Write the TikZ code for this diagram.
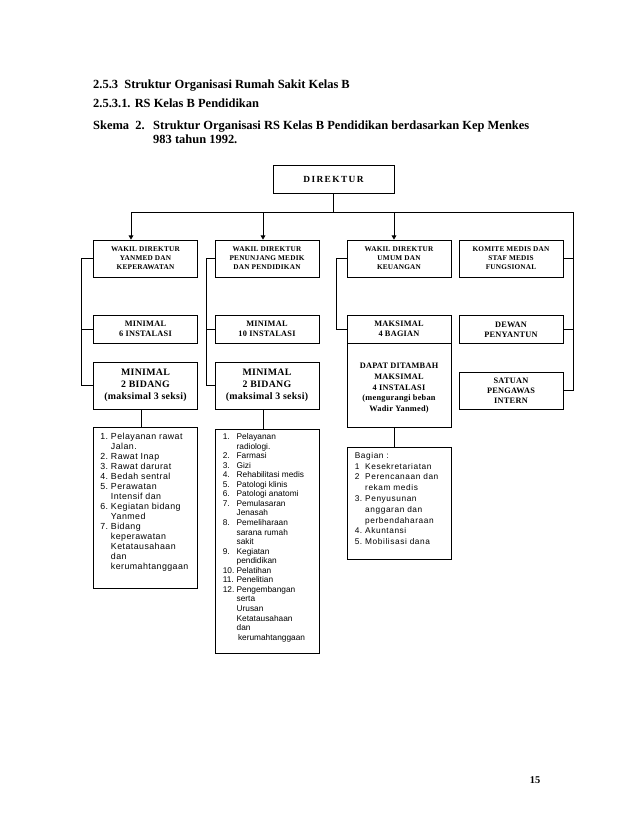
\documentclass[tikz,border=0pt]{standalone}
\usepackage{fontspec}
\usepackage{tikz}
\usetikzlibrary{arrows.meta}
\setmainfont{Liberation Serif}
\newfontfamily\boxfont[LetterSpace=3]{Liberation Serif}
\newfontfamily\widefont[LetterSpace=15]{Liberation Serif}
\newfontfamily\listfont{Liberation Sans}
\newfontfamily\listmid[LetterSpace=7]{Liberation Sans}
\newfontfamily\listwide[LetterSpace=5]{Liberation Sans}
\newlength\pxu
\setlength\pxu{0.3384mm}

\tikzstyle{box} = [draw, line width=0.8pt, inner sep=0pt, align=center, minimum width=104\pxu]
\tikzstyle{wadir} = [box, minimum height=37\pxu, font=\boxfont\bfseries\fontsize{7}{8.6}\selectfont]
\tikzstyle{unit} = [box, minimum height=28\pxu, font=\boxfont\bfseries\fontsize{8}{9.6}\selectfont]
\tikzstyle{bidang} = [box, minimum height=47\pxu, font=\boxfont\bfseries\fontsize{9.5}{11.5}\selectfont]
\tikzstyle{listbox} = [draw, line width=0.8pt, inner sep=0pt, minimum width=104\pxu]
\tikzstyle{listtext} = [anchor=north west, inner sep=0pt]
\tikzstyle{judul} = [anchor=base west, inner sep=0pt, font=\bfseries\fontsize{12}{14}\selectfont]
\tikzstyle{wire} = [line width=0.8pt]
\tikzstyle{arr} = [wire, -{Triangle[length=4pt,width=4.5pt]}]

\begin{document}
\begin{tikzpicture}[x=0.3384mm,y=-0.3384mm]
\useasboundingbox (0,0) rectangle (638,826);

% judul
\node[judul] (j1) at (93,88.5) {2.5.3\ \ Struktur Organisasi Rumah Sakit Kelas B};
\node[judul] (j2) at (93,108) {2.5.3.1. RS Kelas B Pendidikan};
\node[judul] (j3) at (93,130) {Skema\ \ 2.};
\node[judul] (j4) at (153,130) {Struktur Organisasi RS Kelas B Pendidikan berdasarkan Kep Menkes};
\node[judul] (j5) at (153,143.5) {983 tahun 1992.};

% kotak
\node[box, minimum width=121\pxu, minimum height=28\pxu, font=\widefont\bfseries\fontsize{9}{10}\selectfont] (dir) at (333.5,179) {DIREKTUR};

\node[wadir] (wyan) at (145.5,258.5) {WAKIL DIREKTUR\\YANMED DAN\\KEPERAWATAN};
\node[wadir] (wpen) at (267,258.5) {WAKIL DIREKTUR\\PENUNJANG MEDIK\\DAN PENDIDIKAN};
\node[wadir] (wum) at (399,258.5) {WAKIL DIREKTUR\\UMUM DAN\\KEUANGAN};
\node[wadir] (komite) at (511,258.5) {KOMITE MEDIS DAN\\STAF MEDIS\\FUNGSIONAL};

\node[unit] (inst6) at (145.5,329) {MINIMAL\\6 INSTALASI};
\node[unit] (inst10) at (267,329) {MINIMAL\\10 INSTALASI};
\node[unit] (bagian) at (399,329) {MAKSIMAL\\4 BAGIAN};
\node[unit] (dewan) at (511,329.5) {DEWAN\\PENYANTUN};

\node[bidang] (bid1) at (145.5,385.5) {MINIMAL\\2 BIDANG\\(maksimal 3 seksi)};
\node[bidang] (bid2) at (267,385.5) {MINIMAL\\2 BIDANG\\(maksimal 3 seksi)};
\node[listbox, minimum height=84\pxu] (dapat) at (399,385) {};
\node[anchor=north, inner sep=0pt, align=center, font=\boxfont\bfseries\fontsize{8}{10.5}\selectfont] (dapattxt) at ([yshift=-20\pxu]dapat.north) {DAPAT DITAMBAH\\MAKSIMAL\\4 INSTALASI\\(mengurangi beban\\Wadir Yanmed)};
\node[unit, minimum height=37\pxu] (satuan) at (511,390.5) {SATUAN\\PENGAWAS\\INTERN};

% rincian
\node[listbox, minimum height=161\pxu] (list1) at (145.5,507.5) {};
\node[listtext, font=\listwide\fontsize{8.5}{9.6}\selectfont] (list1txt) at ([xshift=7\pxu,yshift=-6\pxu]list1.north west) {%
\begin{tabular}{@{}l@{\ }l@{}}
1. & Pelayanan rawat\\
   & Jalan.\\
2. & Rawat Inap\\
3. & Rawat darurat\\
4. & Bedah sentral\\
5. & Perawatan\\
   & Intensif dan\\
6. & Kegiatan bidang\\
   & Yanmed\\
7. & Bidang\\
   & keperawatan\\
   & Ketatausahaan\\
   & dan\\
   & kerumahtanggaan
\end{tabular}};

\node[listbox, minimum height=224\pxu] (list2) at (267,541) {};
\node[listtext, font=\listfont\fontsize{8}{9.2}\selectfont] (list2txt) at ([xshift=8\pxu,yshift=-4\pxu]list2.north west) {%
\begin{tabular}{@{}l@{\ }l@{}}
1.  & Pelayanan\\
    & radiologi.\\
2.  & Farmasi\\
3.  & Gizi\\
4.  & Rehabilitasi medis\\
5.  & Patologi klinis\\
6.  & Patologi anatomi\\
7.  & Pemulasaran\\
    & Jenasah\\
8.  & Pemeliharaan\\
    & sarana rumah\\
    & sakit\\
9.  & Kegiatan\\
    & pendidikan\\
10. & Pelatihan\\
11. & Penelitian\\
12. & Pengembangan\\
    & serta\\
    & Urusan\\
    & Ketatausahaan\\
    & dan\\
    & \,kerumahtanggaan
\end{tabular}};

\node[listbox, minimum height=112\pxu] (list3) at (399,503) {};
\node[listtext, font=\listmid\fontsize{8}{10.4}\selectfont] (list3txt) at ([xshift=8\pxu,yshift=-4\pxu]list3.north west) {%
\begin{tabular}{@{}l@{\ }l@{}}
\multicolumn{2}{@{}l@{}}{Bagian :}\\
1  & Kesekretariatan\\
2  & Perencanaan dan\\
   & rekam medis\\
3. & Penyusunan\\
   & anggaran dan\\
   & perbendaharaan\\
4. & Akuntansi\\
5. & Mobilisasi dana
\end{tabular}};

\node[anchor=base, inner sep=0pt, font=\bfseries\fontsize{10}{12}\selectfont] (hal) at (535,783) {15};

% garis
\coordinate (bus1) at (131,212);
\coordinate (bus2) at (263,212);
\coordinate (bus3) at (394,212);
\coordinate (busR) at (573,212);

\draw[wire] (dir.south) -- (dir.south |- bus1);
\draw[wire] (bus1) -- (busR) -- (busR |- satuan.east) -- (satuan.east);
\foreach \b/\n in {bus1/wyan,bus2/wpen,bus3/wum}
{
	\draw[arr] (\b) -- (\b |- \n.north);
}
\foreach \n in {komite,dewan}
{
	\draw[wire] (\n.east) -- (\n.east -| busR);
}

\draw[wire] (wyan.west) -- ++(-12,0) |- (bid1.west);
\draw[wire] (inst6.west) -- ++(-12,0);
\draw[wire] (wpen.west) -- ++(-8,0) |- (bid2.west);
\draw[wire] (inst10.west) -- ++(-8,0);
\draw[wire] (wum.west) -- ++(-10,0) |- (bagian.west);

\draw[wire] ([xshift=-4.5\pxu]bid1.south) -- ([xshift=-4.5\pxu]list1.north);
\draw[wire] ([xshift=-4\pxu]bid2.south) -- ([xshift=-4\pxu]list2.north);
\draw[wire] ([xshift=-5\pxu]dapat.south) -- ([xshift=-5\pxu]list3.north);

\end{tikzpicture}
\end{document}
